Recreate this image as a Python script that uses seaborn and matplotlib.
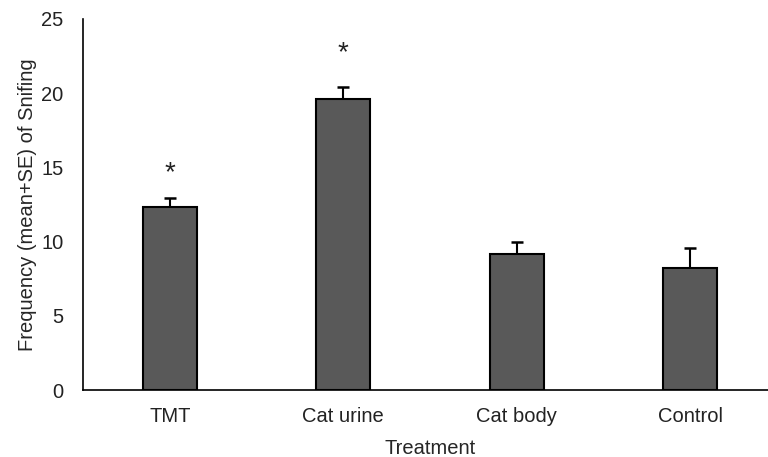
import matplotlib
matplotlib.use("Agg")
import matplotlib.pyplot as plt
import seaborn as sns
import pandas as pd
import numpy as np

treatments = ["TMT", "Cat urine", "Cat body", "Control"]
means = [12.35, 19.6, 9.15, 8.2]
se = [0.6, 0.8, 0.8, 1.4]
# significance markers: treatment index and marker height
star_idx = [0, 1]
star_y = [13.75, 21.85]

sns.set_theme(style="white")
plt.rcParams["font.family"] = ["Liberation Sans", "DejaVu Sans"]

df = pd.DataFrame({"Treatment": treatments, "Frequency": means})

fig = plt.figure(figsize=(7.68, 4.57), dpi=100)
W, H = 768, 457
ax = fig.add_axes([83 / W, (H - 390) / H, (777 - 83) / W, (390 - 19) / H])

sns.barplot(data=df, x="Treatment", y="Frequency", order=treatments,
            color="#595959", width=0.31, edgecolor="black", linewidth=1.5,
            saturation=1, errorbar=None, ax=ax)
for patch in ax.patches:
    patch.set_zorder(2)

# mean+SE whiskers; the lower half sits behind the bars
x = np.arange(len(treatments))
ax.errorbar(x, means, yerr=se, fmt="none",
            ecolor="black", elinewidth=1.5, capsize=4, capthick=1.8, zorder=1)

for i, yv in zip(star_idx, star_y):
    ax.text(x[i], yv, "*", ha="center", va="bottom",
            fontsize=20, color="#222222")

ax.set_xlim(-0.5, 3.5)
ax.set_ylim(0, 25)
ax.set_yticks([0, 5, 10, 15, 20, 25])
ax.set_xlabel("Treatment", fontsize=14.5, labelpad=9.5)
ax.set_ylabel("Frequency (mean+SE) of Snifing", fontsize=14.5, labelpad=3)
ax.tick_params(axis="both", length=0, labelsize=14.5, colors="#222222")
ax.tick_params(axis="y", pad=14)
ax.tick_params(axis="x", pad=12)

for side in ["top", "right"]:
    ax.spines[side].set_visible(False)
for side in ["left", "bottom"]:
    ax.spines[side].set_color("black")
    ax.spines[side].set_linewidth(1.2)
    ax.spines[side].set_zorder(3)

fig.savefig("out.png", dpi=100)
